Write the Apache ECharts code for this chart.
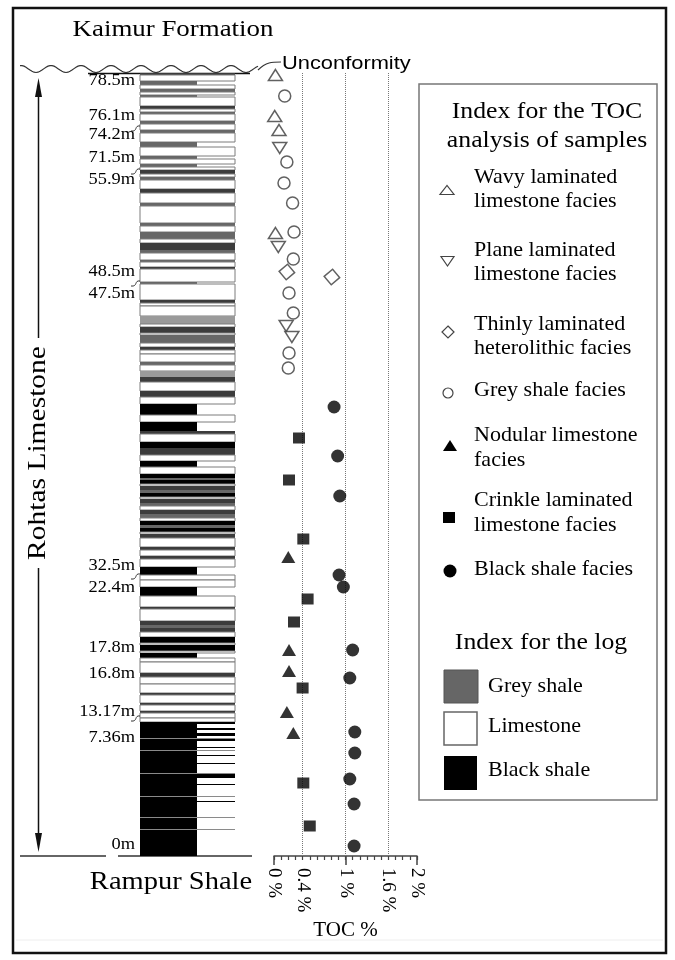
<!DOCTYPE html>
<html>
<head>
<meta charset="utf-8">
<script src="https://cdn.jsdelivr.net/npm/echarts@6/dist/echarts.min.js"></script>
<style>
  html, body { margin: 0; padding: 0; background: #fff; }
  #chart { width: 675px; height: 960px; }
</style>
</head>
<body>
<div id="chart"></div>
<script>
// TOC samples: [TOC %, height on the log (cm above the base)]
const wavyLaminated = [[0.02, 78.1], [0.01, 74.0], [0.07, 72.6], [0.02, 62.3]];
const planeLaminated = [[0.08, 70.8], [0.06, 60.9], [0.17, 53.0], [0.25, 51.9]];
const heterolithic = [[0.18, 58.4], [0.81, 57.9]];
const greyShale = [[0.15, 76.0], [0.18, 69.4], [0.14, 67.3], [0.26, 65.3], [0.28, 62.4],
  [0.27, 59.7], [0.21, 56.3], [0.27, 54.3], [0.21, 50.3], [0.20, 48.8]];
const nodular = [[0.20, 29.9], [0.21, 20.6], [0.21, 18.5], [0.18, 14.4], [0.27, 12.3]];
const crinkle = [[0.35, 41.8], [0.21, 37.6], [0.41, 31.7], [0.47, 25.7], [0.28, 23.4],
  [0.40, 16.8], [0.41, 7.3], [0.50, 3.0]];
const blackShale = [[0.84, 44.9], [0.89, 40.0], [0.92, 36.0], [0.91, 28.1], [0.97, 26.9],
  [1.10, 20.6], [1.06, 17.8], [1.13, 12.4], [1.13, 10.3], [1.06, 7.7], [1.12, 5.2], [1.12, 1.0]];

// x axis
const tocLabels = [0, 0.4, 1, 1.6, 2];
const tocMajor = [0, 1, 2];
const tocGuides = [0.4, 1, 1.6];

// depth marks beside the log
const depthLabels = ['78.5m', '76.1m', '74.2m', '71.5m', '55.9m', '48.5m', '47.5m',
  '32.5m', '22.4m', '17.8m', '16.8m', '13.17m', '7.36m', '0m'];
const depthLabelH = [77.5, 74.0, 72.1, 69.8, 67.6, 58.4, 56.2, 29.0, 26.8, 20.8, 18.2, 14.4, 11.8, 1.1];
const breakH = [72.8, 68.5, 57.3, 28.0, 13.8];

// log beds from the top: [thickness mm, lithology, relative width]
// L limestone, G grey shale, g pale grey shale, D dark shale, B black shale, S seam
const logTop = 78.3;
const beds = [
  [2,'D',1],[6,'L',1],[4,'G',.6],[4,'L',1],[3,'G',1],[3,'L',1],[2,'G',.6],[9,'L',1],[3,'D',1],[3,'L',1],
  [2,'G',1],[7,'L',1],[3,'G',1],[6,'L',1],[3,'G',1],[9,'L',1],[5,'G',.6],[9,'L',1],[3,'G',.6],[5,'L',1],
  [3,'G',.6],[3,'L',1],[4,'D',1],[3,'L',1],[3,'G',1],[9,'L',1],[4,'D',1],[10,'L',1],[3,'G',1],[17,'L',1],
  [3,'G',1],[6,'L',1],[7,'G',1],[4,'L',1],[7,'D',1],[3,'G',1],[7,'L',1],[2,'G',1],[5,'L',1],[2,'D',1],
  [13,'L',1],[2,'G',.6],[16,'L',1],[3,'D',1],[3,'L',1],[10,'L',1],[8,'g',1],[3,'L',1],[6,'D',1],[2,'L',1],
  [8,'G',1],[4,'L',1],[3,'D',1],[4,'L',1],[8,'L',1],[3,'G',1],[6,'L',1],[6,'g',1],[5,'D',1],[9,'L',1],
  [6,'D',1],[7,'L',1],[11,'B',.6],[7,'L',1],[9,'B',.6],[3,'D',1],[8,'L',1],[6,'B',1],[7,'D',1],[6,'L',1],
  [6,'B',.6],[7,'L',1],[4,'B',1],[2,'G',1],[4,'B',1],[2,'L',1],[4,'D',1],[3,'G',1],[4,'B',1],[2,'L',1],
  [4,'D',1],[3,'G',1],[4,'L',1],[4,'D',1],[4,'G',1],[3,'L',1],[4,'B',1],[3,'G',1],[4,'B',1],[2,'L',1],
  [4,'D',1],[9,'L',1],[3,'D',1],[6,'L',1],[3,'D',1],[8,'L',1],[8,'B',.6],[5,'L',1],[7,'L',1],[9,'B',.6],
  [11,'L',1],[2,'D',1],[12,'L',1],[4,'D',1],[3,'G',1],[4,'D',1],[5,'L',1],[6,'B',1],[2,'L',1],[6,'B',1],
  [2,'L',1],[5,'B',.6],[4,'L',1],[11,'L',1],[4,'D',1],[7,'L',1],[9,'L',1],[2,'D',1],[8,'L',1],[2,'D',1],
  [6,'L',1],[2,'D',1],[5,'L',1],[4,'L',1],
  [2,'B',1],[4,'B',.6],[2,'B',1],[3,'B',.6],[3,'B',1],[2,'B',.6],[1,'S',1],[2,'B',1],[6,'B',.6],[1,'B',1],
  [2,'B',.6],[1,'S',1],[4,'B',.6],[1,'B',1],[7,'B',.6],[1,'B',1],[9,'B',.6],[1,'S',1],[4,'B',1],[6,'B',.6],
  [1,'B',1],[11,'B',.6],[1,'S',1],[4,'B',.6],[1,'B',1],[15,'B',.6],[1,'S',1],[11,'B',.6],[1,'S',1],[26,'B',.6]
];

const lithFill = { L: '#fff', G: '#676767', g: '#9a9a9a', D: '#3c3c3c', B: '#000', S: '#8a8a8a' };
const serif = '"Liberation Serif", "Times New Roman", serif';

// stack beds downward from the top of the log
let cursor = logTop;
const bedRows = beds.map(function (b) {
  const top = cursor;
  cursor = +(cursor - b[0] / 10).toFixed(2);
  return { top: top, base: cursor, lith: b[1], w: b[2] };
});

function renderBed(params, api) {
  const lith = bedRows[params.dataIndex].lith;
  const a = api.coord([0, api.value(1)]);
  const b = api.coord([api.value(0), api.value(2)]);
  return {
    type: 'rect',
    shape: { x: a[0], y: a[1], width: b[0] - a[0], height: Math.max(b[1] - a[1], 1) },
    style: lith === 'L'
      ? { fill: '#fff', stroke: '#7d7d7d', lineWidth: 1 }
      : { fill: lithFill[lith] }
  };
}

function renderDepth(params, api) {
  const p = api.coord([0, api.value(1)]);
  return {
    type: 'text',
    x: p[0] - 5,
    y: p[1],
    scaleX: 1.15,
    style: {
      text: depthLabels[params.dataIndex],
      align: 'right',
      verticalAlign: 'middle',
      font: '16px ' + serif,
      fill: '#000'
    }
  };
}

function renderBreak(params, api) {
  const p = api.coord([0, api.value(1)]);
  return {
    type: 'bezierCurve',
    shape: {
      x1: p[0] - 9, y1: p[1] + 3, x2: p[0], y2: p[1] - 2,
      cpx1: p[0] - 2, cpy1: p[1] + 4, cpx2: p[0] - 6, cpy2: p[1] - 3
    },
    style: { stroke: '#333', fill: 'none', lineWidth: 1 }
  };
}

function facies(name, data, symbol, size, filled, rotate) {
  return {
    name: name,
    type: 'scatter',
    xAxisIndex: 1,
    yAxisIndex: 1,
    data: data,
    symbol: symbol,
    symbolSize: size,
    symbolRotate: rotate || 0,
    itemStyle: filled
      ? { color: '#000' }
      : { color: '#fff', borderColor: '#3a3a3a', borderWidth: 1.5 },
    z: 5
  };
}

// decorative pieces: frame, headings, unconformity, arrow, legend
const wave = [];
for (let x = 20; x <= 258; x += 2) {
  wave.push([x, 69 + 3.5 * Math.cos((x - 36) / 30 * 2 * Math.PI)]);
}

function txt(x, y, text, size, opts) {
  opts = opts || {};
  return {
    type: 'text', x: x, y: y, scaleX: opts.scaleX || 1, rotation: opts.rotation || 0,
    style: {
      text: text, font: size + 'px ' + (opts.family || serif), fill: '#000',
      align: opts.align || 'left', verticalAlign: 'middle', lineHeight: opts.lineHeight
    },
    z: 10
  };
}

const graphics = [
  { type: 'rect', shape: { x: 13, y: 8, width: 653, height: 945 }, style: { fill: 'none', stroke: '#111', lineWidth: 2.5 } },
  { type: 'line', shape: { x1: 16, y1: 940, x2: 663, y2: 940 }, style: { stroke: '#eee', lineWidth: 1 } },
  txt(173, 30, 'Kaimur Formation', 24, { align: 'center', scaleX: 1.12 }),
  txt(171, 882, 'Rampur Shale', 25, { align: 'center', scaleX: 1.14 }),
  { type: 'polyline', shape: { points: wave }, style: { stroke: '#333', fill: 'none', lineWidth: 1.2 } },
  { type: 'bezierCurve', shape: { x1: 258, y1: 70, x2: 281, y2: 62, cpx1: 266, cpy1: 62, cpx2: 272, cpy2: 62 },
    style: { stroke: '#333', fill: 'none', lineWidth: 1.2 } },
  txt(282, 64, 'Unconformity', 19, { family: '"Liberation Sans", Arial, sans-serif', scaleX: 1.15 }),
  { type: 'line', shape: { x1: 88, y1: 73.5, x2: 250, y2: 73.5 }, style: { stroke: '#111', lineWidth: 1.5 } },
  { type: 'line', shape: { x1: 20, y1: 856, x2: 106, y2: 856 }, style: { stroke: '#333', lineWidth: 1.5 } },
  { type: 'line', shape: { x1: 118, y1: 856, x2: 252, y2: 856 }, style: { stroke: '#333', lineWidth: 1.5 } },
  { type: 'line', shape: { x1: 38.5, y1: 92, x2: 38.5, y2: 338 }, style: { stroke: '#111', lineWidth: 1.5 } },
  { type: 'line', shape: { x1: 38.5, y1: 568, x2: 38.5, y2: 836 }, style: { stroke: '#111', lineWidth: 1.5 } },
  { type: 'polygon', shape: { points: [[38.5, 78], [35, 97], [42, 97]] }, style: { fill: '#111' } },
  { type: 'polygon', shape: { points: [[38.5, 852], [35, 833], [42, 833]] }, style: { fill: '#111' } },
  txt(38.5, 453, 'Rohtas Limestone', 25, { align: 'center', rotation: Math.PI / 2, scaleX: 1.18 }),

  // legend
  { type: 'rect', shape: { x: 419, y: 84, width: 238, height: 716 }, style: { fill: '#fff', stroke: '#777', lineWidth: 1.5 }, z: 1 },
  txt(547, 126.5, 'Index for the TOC\nanalysis of samples', 23, { align: 'center', scaleX: 1.12, lineHeight: 29 }),
  { type: 'polygon', shape: { points: [[440, 194.5], [454, 194.5], [447, 185.5]] }, style: { fill: '#fff', stroke: '#444', lineWidth: 1.2 }, z: 10 },
  txt(474, 189, 'Wavy laminated\nlimestone facies', 21, { scaleX: 1.05, lineHeight: 24 }),
  { type: 'polygon', shape: { points: [[441, 256.5], [454, 256.5], [447.5, 266]] }, style: { fill: '#fff', stroke: '#444', lineWidth: 1.2 }, z: 10 },
  txt(474, 262, 'Plane laminated\nlimestone facies', 21, { scaleX: 1.05, lineHeight: 24 }),
  { type: 'polygon', shape: { points: [[448, 326], [454, 332], [448, 338], [442, 332]] }, style: { fill: '#fff', stroke: '#444', lineWidth: 1.2 }, z: 10 },
  txt(474, 336, 'Thinly laminated\nheterolithic facies', 21, { scaleX: 1.05, lineHeight: 24 }),
  { type: 'circle', shape: { cx: 448, cy: 393, r: 5 }, style: { fill: '#fff', stroke: '#444', lineWidth: 1.2 }, z: 10 },
  txt(474, 390, 'Grey shale facies', 21, { scaleX: 1.05 }),
  { type: 'polygon', shape: { points: [[443, 451], [457, 451], [450, 440]] }, style: { fill: '#000' }, z: 10 },
  txt(474, 447.5, 'Nodular limestone\nfacies', 21, { scaleX: 1.05, lineHeight: 25 }),
  { type: 'rect', shape: { x: 443, y: 512, width: 12, height: 11 }, style: { fill: '#000' }, z: 10 },
  txt(474, 512.5, 'Crinkle laminated\nlimestone facies', 21, { scaleX: 1.05, lineHeight: 25 }),
  { type: 'circle', shape: { cx: 450, cy: 571, r: 6.5 }, style: { fill: '#000' }, z: 10 },
  txt(474, 569, 'Black shale facies', 21, { scaleX: 1.05 }),
  txt(541, 643, 'Index for the log', 23, { align: 'center', scaleX: 1.12 }),
  { type: 'rect', shape: { x: 444, y: 670, width: 34, height: 33 }, style: { fill: '#666', stroke: '#555', lineWidth: 1 }, z: 10 },
  txt(488, 686, 'Grey shale', 21, { scaleX: 1.05 }),
  { type: 'rect', shape: { x: 444, y: 712, width: 33, height: 33 }, style: { fill: '#fff', stroke: '#666', lineWidth: 1.5 }, z: 10 },
  txt(488, 726, 'Limestone', 21, { scaleX: 1.05 }),
  { type: 'rect', shape: { x: 444, y: 756, width: 33, height: 34 }, style: { fill: '#000' }, z: 10 },
  txt(488, 770, 'Black shale', 21, { scaleX: 1.05 })
];

const chart = echarts.init(document.getElementById('chart'));
const option = {
  animation: false,
  backgroundColor: '#fff',
  grid: [
    { left: 140, top: 72, width: 95, height: 784 },
    { left: 274, top: 72, width: 143, height: 784 }
  ],
  xAxis: [
    { gridIndex: 0, type: 'value', min: 0, max: 1, show: false },
    {
      gridIndex: 1, type: 'value', min: 0, max: 2, interval: 0.1,
      name: 'TOC %', nameLocation: 'middle', nameGap: 62,
      nameTextStyle: { fontFamily: serif, fontSize: 21, color: '#000' },
      axisLine: { lineStyle: { color: '#444', width: 1.5 } },
      axisTick: { length: 4, lineStyle: { color: '#444', width: 1.2 } },
      axisLabel: {
        customValues: tocLabels, rotate: -90, margin: 12,
        fontFamily: serif, fontSize: 19, color: '#000',
        formatter: function (v) { return v + ' %'; }
      },
      splitLine: { show: false }
    },
    {
      gridIndex: 1, type: 'value', min: 0, max: 2, position: 'bottom',
      axisLine: { show: false },
      axisTick: { customValues: tocMajor, length: 9, lineStyle: { color: '#444', width: 1.5 } },
      axisLabel: { show: false },
      splitLine: { show: false }
    }
  ],
  yAxis: [
    { gridIndex: 0, type: 'value', min: 0, max: 78.4, show: false },
    { gridIndex: 1, type: 'value', min: 0, max: 78.4, show: false }
  ],
  series: [
    {
      type: 'custom', xAxisIndex: 0, yAxisIndex: 0, renderItem: renderBed,
      data: bedRows.map(function (r) { return [r.w, r.top, r.base]; }), z: 2
    },
    {
      type: 'custom', xAxisIndex: 0, yAxisIndex: 0, renderItem: renderDepth,
      data: depthLabelH.map(function (h) { return [0, h]; }), clip: false, z: 3
    },
    {
      type: 'custom', xAxisIndex: 0, yAxisIndex: 0, renderItem: renderBreak,
      data: breakH.map(function (h) { return [0, h]; }), clip: false, z: 3
    },
    Object.assign(facies('Wavy laminated limestone facies', wavyLaminated, 'triangle', [14, 11], false), {
      markLine: {
        silent: true, symbol: ['none', 'none'], label: { show: false },
        lineStyle: { type: 'dotted', color: '#777', width: 1 },
        data: tocGuides.map(function (v) { return { xAxis: v }; })
      }
    }),
    facies('Plane laminated limestone facies', planeLaminated, 'triangle', [14, 11], false, 180),
    facies('Thinly laminated heterolithic facies', heterolithic, 'rect', 11, false, 40),
    facies('Grey shale facies', greyShale, 'circle', 12, false),
    facies('Nodular limestone facies', nodular, 'triangle', [14, 12], true),
    facies('Crinkle laminated limestone facies', crinkle, 'rect', [12, 11], true),
    facies('Black shale facies', blackShale, 'circle', 13, true)
  ],
  graphic: graphics
};
chart.setOption(option);
</script>
</body>
</html>
